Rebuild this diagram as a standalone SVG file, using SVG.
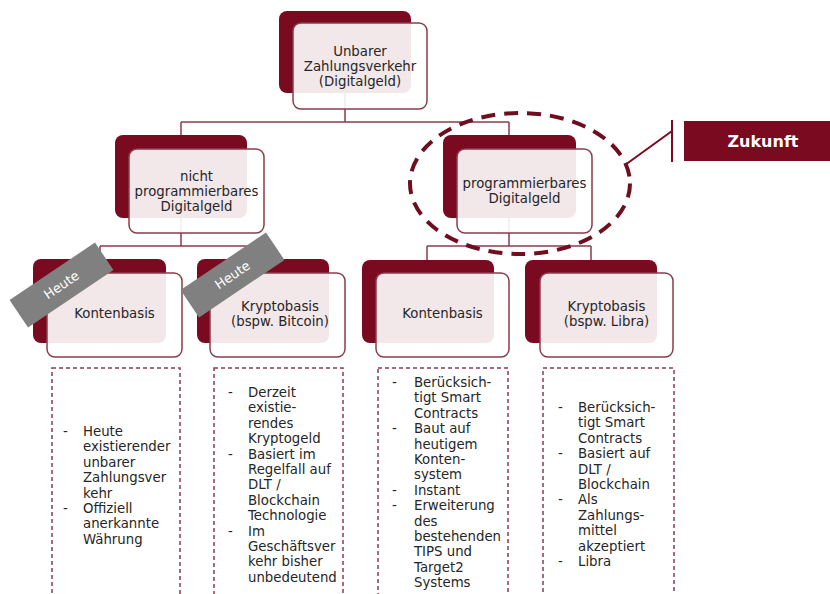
<svg xmlns="http://www.w3.org/2000/svg" width="830" height="594" viewBox="0 0 830 594">
<style>
.back{fill:#7a0a1f;}
.front{fill:#ffffff;fill-opacity:0.9;stroke:#8a3d4c;stroke-width:1.5;}
.conn{fill:none;stroke:#8a3d4c;stroke-width:1.5;}
.lbl{font-family:"DejaVu Sans","Verdana",sans-serif;font-size:13.3px;fill:#262626;text-anchor:middle;}
.list{font-family:"DejaVu Sans","Verdana",sans-serif;font-size:13.3px;fill:#262626;}
.box{fill:none;stroke:#8a3d4c;stroke-width:1.5;stroke-dasharray:4 3;}
.tag{fill:#808080;}
.tagt{font-family:"DejaVu Sans","Verdana",sans-serif;font-size:13px;fill:#ffffff;text-anchor:middle;}
</style>
<g id="connectors">
<path class="conn" d="M345 52V122M181 122H509M181 122V246M509 122V246M100 246H263M100 246V262M263 246V262M427 246H591M427 246V262M591 246V262"/>
</g>
<g id="n-top">
<rect class="back" x="279" y="11" width="132" height="82" rx="8"/>
<rect class="front" x="293" y="23" width="134" height="86" rx="8"/>
<text class="lbl" x="360" y="56">Unbarer</text>
<text class="lbl" x="360" y="71">Zahlungsverkehr</text>
<text class="lbl" x="360" y="86">(Digitalgeld)</text>
</g>
<g id="n-nichtprog">
<rect class="back" x="115" y="135" width="132" height="83" rx="8"/>
<rect class="front" x="129" y="149" width="135" height="84" rx="8"/>
<text class="lbl" x="196.5" y="181">nicht</text>
<text class="lbl" x="196.5" y="196">programmierbares</text>
<text class="lbl" x="196.5" y="211">Digitalgeld</text>
</g>
<g id="n-prog">
<rect class="back" x="443" y="135" width="133" height="83" rx="8"/>
<rect class="front" x="457" y="149" width="135" height="84" rx="8"/>
<text class="lbl" x="524.5" y="188">programmierbares</text>
<text class="lbl" x="524.5" y="203">Digitalgeld</text>
</g>
<g id="n-konten1">
<rect class="back" x="33" y="259" width="133" height="84" rx="8"/>
<rect class="front" x="47" y="273" width="135" height="84" rx="8"/>
<text class="lbl" x="114.5" y="318">Kontenbasis</text>
</g>
<g id="n-krypto1">
<rect class="back" x="197" y="259" width="132" height="84" rx="8"/>
<rect class="front" x="210" y="273" width="135" height="84" rx="8"/>
<text class="lbl" x="280" y="311">Kryptobasis</text>
<text class="lbl" x="280" y="326">(bspw. Bitcoin)</text>
</g>
<g id="n-konten2">
<rect class="back" x="362" y="260" width="132" height="83" rx="8"/>
<rect class="front" x="376" y="273" width="133" height="84" rx="8"/>
<text class="lbl" x="442.5" y="318">Kontenbasis</text>
</g>
<g id="n-krypto2">
<rect class="back" x="525" y="260" width="132" height="83" rx="8"/>
<rect class="front" x="540" y="273" width="133" height="84" rx="8"/>
<text class="lbl" x="606.5" y="311">Kryptobasis</text>
<text class="lbl" x="606.5" y="326">(bspw. Libra)</text>
</g>
<g id="tag-heute1" transform="translate(61.5,285) rotate(-34)">
<rect class="tag" x="-51.5" y="-16.5" width="103" height="33"/>
<text class="tagt" x="0" y="4.5">Heute</text>
</g>
<g id="tag-heute2" transform="translate(232.5,275) rotate(-34)">
<rect class="tag" x="-51.5" y="-16.5" width="103" height="33"/>
<text class="tagt" x="0" y="4.5">Heute</text>
</g>
<g id="zukunft-marker">
<ellipse cx="520" cy="183.5" rx="110" ry="70.5" fill="none" stroke="#6e0e1f" stroke-width="4" stroke-dasharray="14 9"/>
<path d="M625 165L672 131M672 120V162" fill="none" stroke="#7a0a1f" stroke-width="2"/>
</g>
<g id="n-zukunft">
<rect x="684" y="121" width="146" height="40" fill="#7a0a1f"/>
<text x="763" y="147" font-family="DejaVu Sans, Verdana, sans-serif" font-size="16" font-weight="bold" fill="#ffffff" text-anchor="middle">Zukunft</text>
</g>
<g id="list1">
<rect class="box" x="52" y="368" width="128" height="240"/>
<text class="list"><tspan x="63" y="436">-</tspan><tspan x="83" y="436">Heute</tspan><tspan x="83" y="451.4">existierender</tspan><tspan x="83" y="466.8">unbarer</tspan><tspan x="83" y="482.2">Zahlungsver</tspan><tspan x="83" y="497.6">kehr</tspan><tspan x="63" y="513">-</tspan><tspan x="83" y="513">Offiziell</tspan><tspan x="83" y="528.4">anerkannte</tspan><tspan x="83" y="543.8">Währung</tspan></text>
</g>
<g id="list2">
<rect class="box" x="214" y="368" width="129" height="240"/>
<text class="list"><tspan x="228" y="397">-</tspan><tspan x="248" y="397">Derzeit</tspan><tspan x="248" y="412.4">existie-</tspan><tspan x="248" y="427.8">rendes</tspan><tspan x="248" y="443.2">Kryptogeld</tspan><tspan x="228" y="458.6">-</tspan><tspan x="248" y="458.6">Basiert im</tspan><tspan x="248" y="474">Regelfall auf</tspan><tspan x="248" y="489.4">DLT /</tspan><tspan x="248" y="504.8">Blockchain</tspan><tspan x="248" y="520.2">Technologie</tspan><tspan x="228" y="535.6">-</tspan><tspan x="248" y="535.6">Im</tspan><tspan x="248" y="551">Geschäftsver</tspan><tspan x="248" y="566.4">kehr bisher</tspan><tspan x="248" y="581.8">unbedeutend</tspan></text>
</g>
<g id="list3">
<rect class="box" x="378" y="368" width="130" height="240"/>
<text class="list"><tspan x="392" y="387">-</tspan><tspan x="414" y="387">Berücksich-</tspan><tspan x="414" y="402.4">tigt Smart</tspan><tspan x="414" y="417.8">Contracts</tspan><tspan x="392" y="433.2">-</tspan><tspan x="414" y="433.2">Baut auf</tspan><tspan x="414" y="448.6">heutigem</tspan><tspan x="414" y="464">Konten-</tspan><tspan x="414" y="479.4">system</tspan><tspan x="392" y="494.8">-</tspan><tspan x="414" y="494.8">Instant</tspan><tspan x="392" y="510.2">-</tspan><tspan x="414" y="510.2">Erweiterung</tspan><tspan x="414" y="525.6">des</tspan><tspan x="414" y="541">bestehenden</tspan><tspan x="414" y="556.4">TIPS und</tspan><tspan x="414" y="571.8">Target2</tspan><tspan x="414" y="587.2">Systems</tspan></text>
</g>
<g id="list4">
<rect class="box" x="543" y="368" width="131" height="240"/>
<text class="list"><tspan x="558" y="412">-</tspan><tspan x="578" y="412">Berücksich-</tspan><tspan x="578" y="427.4">tigt Smart</tspan><tspan x="578" y="442.8">Contracts</tspan><tspan x="558" y="458.2">-</tspan><tspan x="578" y="458.2">Basiert auf</tspan><tspan x="578" y="473.6">DLT /</tspan><tspan x="578" y="489">Blockchain</tspan><tspan x="558" y="504.4">-</tspan><tspan x="578" y="504.4">Als</tspan><tspan x="578" y="519.8">Zahlungs-</tspan><tspan x="578" y="535.2">mittel</tspan><tspan x="578" y="550.6">akzeptiert</tspan><tspan x="558" y="566">-</tspan><tspan x="578" y="566">Libra</tspan></text>
</g>
</svg>
